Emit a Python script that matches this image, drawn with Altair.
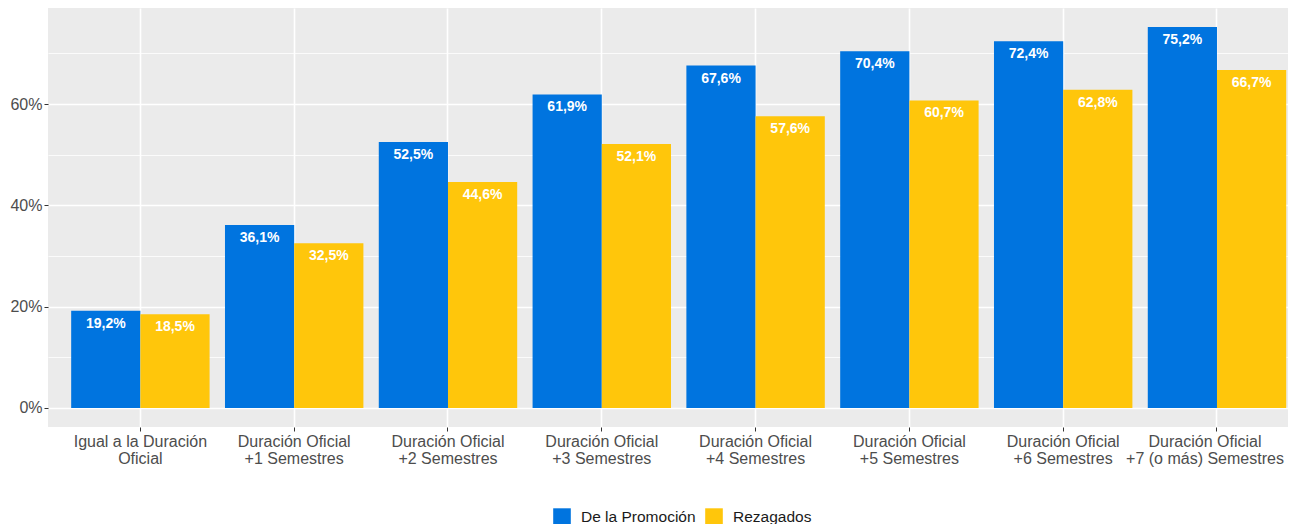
import altair as alt
import pandas as pd

categories = [
    "Igual a la Duración\nOficial",
    "Duración Oficial\n+1 Semestres",
    "Duración Oficial\n+2 Semestres",
    "Duración Oficial\n+3 Semestres",
    "Duración Oficial\n+4 Semestres",
    "Duración Oficial\n+5 Semestres",
    "Duración Oficial\n+6 Semestres",
    "Duración Oficial\n+7 (o más) Semestres",
]
series_names = ["De la Promoción", "Rezagados"]
promocion = [19.2, 36.1, 52.5, 61.9, 67.6, 70.4, 72.4, 75.2]
rezagados = [18.5, 32.5, 44.6, 52.1, 57.6, 60.7, 62.8, 66.7]
colors = ["#0074DF", "#FFC60B"]
y_ticks = [0, 0.1, 0.2, 0.3, 0.4, 0.5, 0.6, 0.7]

rows = []
for c, p, r in zip(categories, promocion, rezagados):
    rows.append({"cat": c, "serie": series_names[0], "v": p / 100,
                 "lab": f"{p:.1f}%".replace(".", ",")})
    rows.append({"cat": c, "serie": series_names[1], "v": r / 100,
                 "lab": f"{r:.1f}%".replace(".", ",")})
df = pd.DataFrame(rows)

x_enc = alt.X(
    "cat:N", sort=categories, title=None,
    scale=alt.Scale(paddingInner=0.1, paddingOuter=0.0812, align=0.928),
    axis=alt.Axis(
        labelAngle=0, labelExpr="split(datum.label, '\\n')",
        labelFontSize=16, labelColor="#4D4D4D", labelLineHeight=17,
        labelPadding=2, tickColor="#333333", tickSize=4, tickWidth=1,
        labelOffset={"condition": {"test": "indexof(datum.label, '+7') >= 0", "value": -12}, "value": 0},
        domain=False, grid=True, gridColor="#FFFFFF", gridWidth=1.6,
        bandPosition=0.5,
    ),
)
xo_enc = alt.XOffset("serie:N", sort=series_names,
                     scale=alt.Scale(paddingInner=0, paddingOuter=0))
y_enc = alt.Y(
    "v:Q", title=None,
    scale=alt.Scale(domain=[-0.0376, 0.7896], nice=False, zero=False),
    axis=alt.Axis(
        values=y_ticks, format=".0%",
        labelExpr="round(datum.value*100) % 20 === 0 ? datum.label : ''",
        labelFontSize=16, labelColor="#4D4D4D", labelPadding=2,
        tickColor="#333333", tickSize=4, tickWidth=1,
        tickOpacity={"condition": {"test": "round(datum.value*100) % 20 === 0", "value": 1}, "value": 0},
        domain=False, grid=True, gridColor="#FFFFFF",
        gridWidth={"condition": {"test": "round(datum.value*100) % 20 === 0", "value": 1.6}, "value": 0.8},
    ),
)

bars = alt.Chart(df).mark_bar().encode(
    x=x_enc, xOffset=xo_enc, y=y_enc,
    color=alt.Color(
        "serie:N", sort=series_names, title=None,
        scale=alt.Scale(domain=series_names, range=colors),
        legend=alt.Legend(
            orient="none", legendX=505, legendY=500, direction="horizontal",
            symbolType="square", symbolSize=310, symbolStrokeWidth=0,
            symbolOpacity=1, labelFontSize=15.5, labelColor="#1A1A1A",
            labelOffset=10, columnPadding=9,
        ),
    ),
)

labels = alt.Chart(df).mark_text(
    color="white", fontWeight="bold", fontSize=14, baseline="middle", dy=13
).encode(x=x_enc, xOffset=xo_enc, y=y_enc, text="lab:N")

chart = alt.layer(bars, labels).properties(
    width=1240, height=419,
    autosize=alt.AutoSizeParams(type="none"),
    padding={"left": 40, "top": 0, "right": 0, "bottom": 100},
).configure(font="Liberation Sans").configure_view(fill="#EBEBEB", stroke=None)

chart.save("out.html", embed_options={"renderer": "svg", "actions": False})
